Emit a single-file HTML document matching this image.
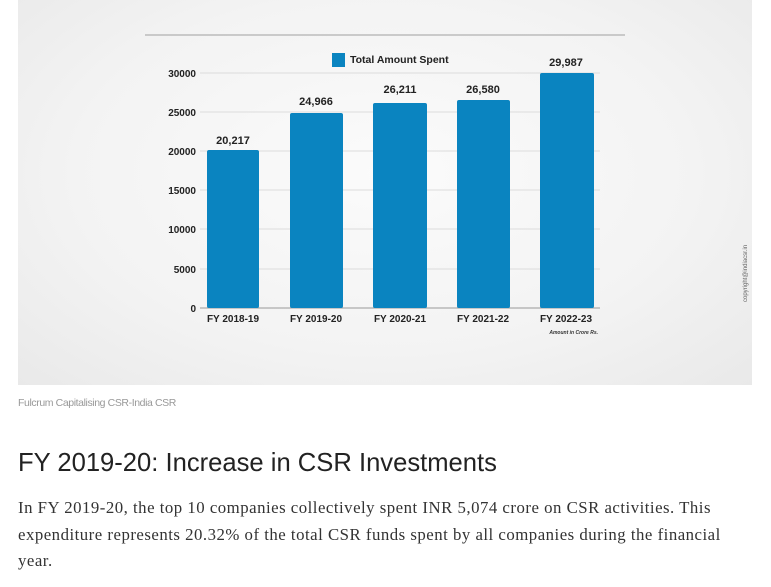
<!DOCTYPE html>
<html><head><meta charset="utf-8"><style>
body{margin:0;width:771px;height:587px;background:#fff;overflow:hidden;position:relative;font-family:"Liberation Sans",sans-serif}
.panel{position:absolute;left:18px;top:0;width:734px;height:385px;background:radial-gradient(ellipse at 50% 45%,#fbfbfb 0%,#f3f3f3 60%,#e9e9e9 100%)}
.cap{position:absolute;left:18px;top:397px;font-size:10.5px;color:#999;letter-spacing:-0.4px}
h1{position:absolute;left:18px;top:449px;margin:0;font-weight:normal;font-size:25.6px;color:#222}
p{position:absolute;left:18px;top:495px;margin:0;width:760px;font-family:"Liberation Serif",serif;font-size:16.8px;line-height:26.5px;color:#333;letter-spacing:0.5px;white-space:nowrap}
</style></head><body>
<div class="panel"></div>
<svg style="position:absolute;left:0;top:0" width="771" height="390">
<line x1="145" y1="35" x2="625" y2="35" stroke="#bbb" stroke-width="1.5"/>
<g stroke="#dcdcdc" stroke-width="1">
<line x1="200" y1="73" x2="600" y2="73"/><line x1="200" y1="112" x2="600" y2="112"/>
<line x1="200" y1="151" x2="600" y2="151"/><line x1="200" y1="190" x2="600" y2="190"/>
<line x1="200" y1="229" x2="600" y2="229"/><line x1="200" y1="269" x2="600" y2="269"/>
</g>
<line x1="200" y1="308" x2="600" y2="308" stroke="#999"/>
<g font-family="Liberation Sans" font-weight="bold" font-size="10" fill="#222" text-anchor="end">
<text x="196" y="77">30000</text><text x="196" y="116">25000</text><text x="196" y="155">20000</text>
<text x="196" y="194">15000</text><text x="196" y="233">10000</text><text x="196" y="273">5000</text><text x="196" y="312">0</text>
</g>
<g fill="#0a84c0">
<rect x="207" y="150" width="52" height="158" rx="2"/>
<rect x="290" y="113" width="53" height="195" rx="2"/>
<rect x="373" y="103" width="54" height="205" rx="2"/>
<rect x="457" y="100" width="53" height="208" rx="2"/>
<rect x="540" y="73" width="54" height="235" rx="2"/>
<rect x="332" y="53" width="13" height="14"/>
</g>
<g font-family="Liberation Sans" font-weight="bold" font-size="11" fill="#222" text-anchor="middle">
<text x="233" y="144">20,217</text><text x="316" y="105">24,966</text><text x="400" y="93">26,211</text>
<text x="483" y="93">26,580</text><text x="566" y="66">29,987</text>
<text x="233" y="322" font-size="10">FY 2018-19</text><text x="316" y="322" font-size="10">FY 2019-20</text>
<text x="400" y="322" font-size="10">FY 2020-21</text><text x="483" y="322" font-size="10">FY 2021-22</text>
<text x="566" y="322" font-size="10">FY 2022-23</text>
</g>
<text x="350" y="63" font-family="Liberation Sans" font-weight="bold" font-size="10.5" fill="#222">Total Amount Spent</text>
<text x="598" y="334" text-anchor="end" font-family="Liberation Sans" font-style="italic" font-weight="bold" font-size="5" fill="#333">Amount in Crore Rs.</text>
<text transform="translate(747,302) rotate(-90)" font-family="Liberation Sans" font-size="6" fill="#666">copyright@indiacsr.in</text>
</svg>
<div class="cap">Fulcrum Capitalising CSR-India CSR</div>
<h1>FY 2019-20: Increase in CSR Investments</h1>
<p>In FY 2019-20, the top 10 companies collectively spent INR 5,074 crore on CSR activities. This<br>expenditure represents 20.32% of the total CSR funds spent by all companies during the financial<br>year.</p>
</body></html>
